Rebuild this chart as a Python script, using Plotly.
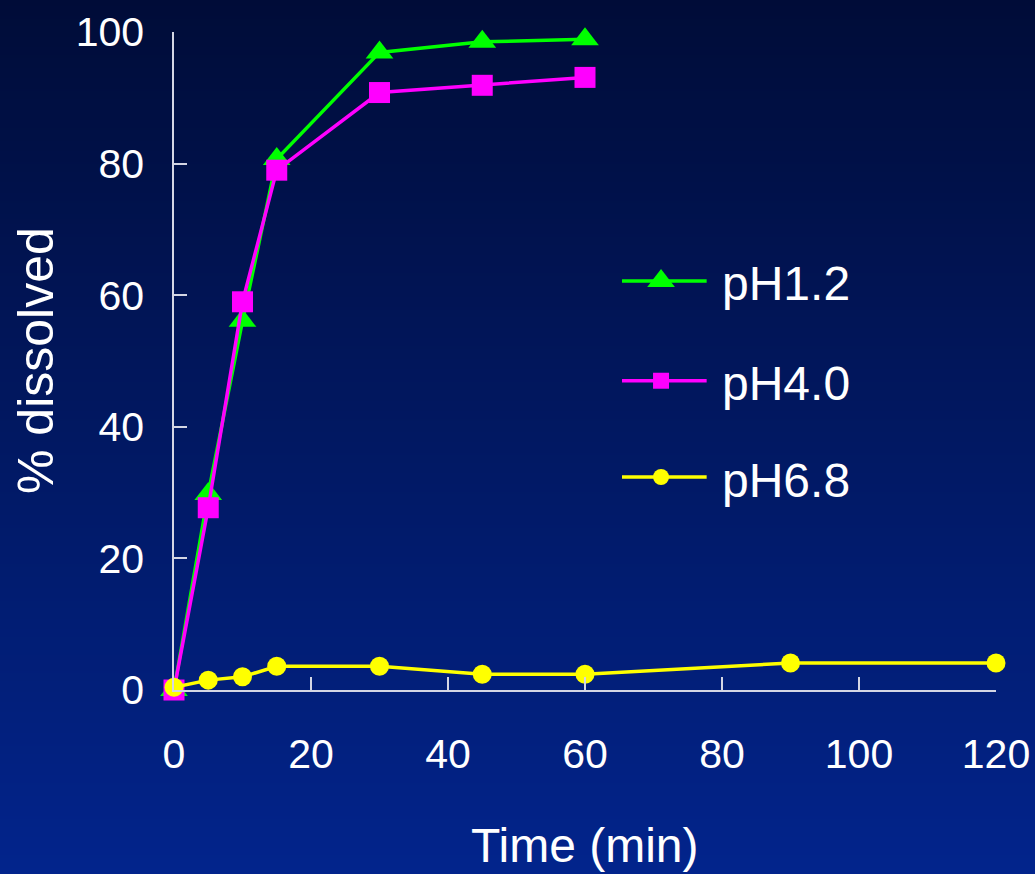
import base64
import struct
import zlib

import plotly.graph_objects as go

# Dissolution profiles (% dissolved vs time in minutes)
time_acid = [0, 5, 10, 15, 30, 45, 60]
ph12 = [0, 29.8, 56.1, 80.7, 96.9, 98.5, 98.9]
ph40 = [0, 27.7, 59.0, 79.0, 90.8, 91.9, 93.1]

time_neutral = [0, 5, 10, 15, 30, 45, 60, 90, 120]
ph68 = [0.4, 1.5, 2.0, 3.6, 3.6, 2.4, 2.4, 4.1, 4.1]

series_names = ["pH1.2", "pH4.0", "pH6.8"]
x_ticks = [0, 20, 40, 60, 80, 100, 120]
y_ticks = [0, 20, 40, 60, 80, 100]

GREEN = "#00ff00"
MAGENTA = "#ff00ff"
YELLOW = "#ffff00"
FONT = "Liberation Sans, Arial, sans-serif"

W, H = 1035, 874
L, R, T, B = 174, 39, 32, 184
PW, PH = W - L - R, H - T - B


def gradient_png(height, top, bottom):
    """1-pixel-wide vertical gradient as a PNG data URI."""
    rows = b""
    for i in range(height):
        f = i / (height - 1)
        c = bytes(round(top[k] + (bottom[k] - top[k]) * f) for k in range(3))
        rows += b"\x00" + c

    def chunk(tag, data):
        return (struct.pack(">I", len(data)) + tag + data
                + struct.pack(">I", zlib.crc32(tag + data) & 0xFFFFFFFF))

    png = (b"\x89PNG\r\n\x1a\n"
           + chunk(b"IHDR", struct.pack(">IIBBBBB", 1, height, 8, 2, 0, 0, 0))
           + chunk(b"IDAT", zlib.compress(rows))
           + chunk(b"IEND", b""))
    return "data:image/png;base64," + base64.b64encode(png).decode()


fig = go.Figure()

fig.add_trace(go.Scatter(
    x=time_acid, y=ph12, name=series_names[0], mode="lines+markers",
    line=dict(color=GREEN, width=3.5),
    marker=dict(symbol="triangle-up", size=24, color=GREEN),
    cliponaxis=False, showlegend=False))
fig.add_trace(go.Scatter(
    x=time_acid, y=ph40, name=series_names[1], mode="lines+markers",
    line=dict(color=MAGENTA, width=3.5),
    marker=dict(symbol="square", size=21, color=MAGENTA),
    cliponaxis=False, showlegend=False))
fig.add_trace(go.Scatter(
    x=time_neutral, y=ph68, name=series_names[2], mode="lines+markers",
    line=dict(color=YELLOW, width=3.5),
    marker=dict(symbol="circle", size=19, color=YELLOW),
    cliponaxis=False, showlegend=False))

# Legend drawn on an overlay axis in plot-fraction coordinates
legend_rows = [
    (series_names[0], GREEN, "triangle-up", 24, 0.6216),
    (series_names[1], MAGENTA, "square", 16, 0.470),
    (series_names[2], YELLOW, "circle", 16, 0.3237),
]
lx0, lx1, lxm, ltext = 0.545, 0.648, 0.5925, 0.664
for name, color, symbol, size, ly in legend_rows:
    fig.add_trace(go.Scatter(
        x=[lx0, lx1], y=[ly, ly], mode="lines", xaxis="x2", yaxis="y2",
        line=dict(color=color, width=3.5), showlegend=False, hoverinfo="skip"))
    fig.add_trace(go.Scatter(
        x=[lxm], y=[ly], mode="markers", xaxis="x2", yaxis="y2",
        marker=dict(symbol=symbol, size=size, color=color),
        showlegend=False, hoverinfo="skip", cliponaxis=False))
    fig.add_annotation(
        x=ltext, y=ly, xref="x2", yref="y2", text=name, showarrow=False,
        xanchor="left", yanchor="middle", yshift=-3,
        font=dict(family=FONT, size=48, color="white"))

axis_color = "#d4d6e4"
fig.update_layout(
    width=W, height=H,
    margin=dict(l=L, r=R, t=T, b=B, pad=0, autoexpand=False),
    paper_bgcolor="#001a6e",
    plot_bgcolor="rgba(0,0,0,0)",
    showlegend=False,
    font=dict(family=FONT, color="white"),
    xaxis=dict(
        range=[0, 120], tickvals=x_ticks, ticks="inside", ticklen=13,
        tickwidth=1.5, tickcolor=axis_color, showline=True,
        linecolor=axis_color, linewidth=1.5, showgrid=False, zeroline=False,
        tickfont=dict(family=FONT, size=41, color="white"),
        ticklabelstandoff=27, automargin=False),
    yaxis=dict(
        range=[0, 100], tickvals=y_ticks, ticks="inside", ticklen=13,
        tickwidth=1.5, tickcolor=axis_color, showline=True,
        linecolor=axis_color, linewidth=1.5, showgrid=False, zeroline=False,
        tickfont=dict(family=FONT, size=41, color="white"),
        ticklabelstandoff=20, automargin=False),
    xaxis2=dict(range=[0, 1], overlaying="x", visible=False, fixedrange=True),
    yaxis2=dict(range=[0, 1], overlaying="y", visible=False, fixedrange=True),
    images=[dict(
        source=gradient_png(H, (0, 12, 56), (2, 36, 140)),
        xref="paper", yref="paper", x=-L / PW, y=1 + T / PH,
        sizex=W / PW, sizey=H / PH, sizing="stretch",
        xanchor="left", yanchor="top", layer="below")],
)

fig.add_annotation(
    text="Time (min)", xref="paper", yref="paper", x=0.5, y=-(845 - 690) / PH,
    showarrow=False, xanchor="center", yanchor="middle",
    font=dict(family=FONT, size=48, color="white"))
fig.add_annotation(
    text="% dissolved", xref="paper", yref="paper", x=-(L - 36) / PW, y=0.5,
    showarrow=False, textangle=-90, xanchor="center", yanchor="middle",
    font=dict(family=FONT, size=50, color="white"))

fig.write_html("out.html")
